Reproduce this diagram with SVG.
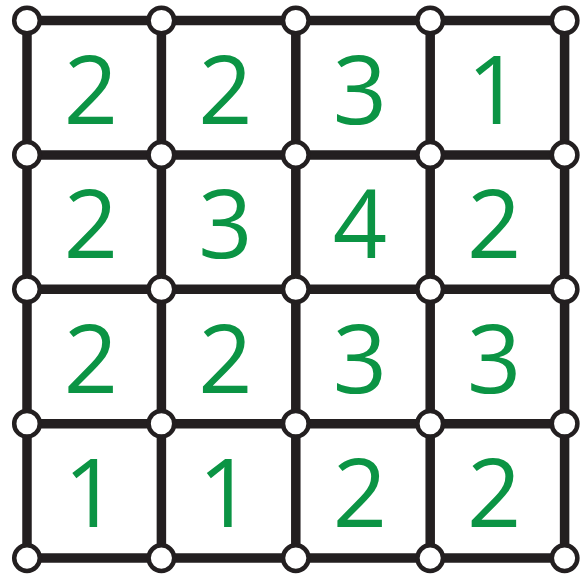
<svg xmlns="http://www.w3.org/2000/svg" width="588" height="579" viewBox="0 0 588 579">
<style>
.e{stroke:#231f20;stroke-width:9.5;stroke-linecap:butt}
.n{fill:#fff;stroke:#231f20;stroke-width:4.5}
.t{fill:#0b9444;font-family:"Open Sans","Liberation Sans",sans-serif;font-size:95px;text-anchor:middle}
</style>
<rect width="588" height="579" fill="#fff"/>
<g id="connectors">
<line class="e" x1="27" y1="20.5" x2="564.6" y2="20.5"/>
<line class="e" x1="27" y1="154.9" x2="564.6" y2="154.9"/>
<line class="e" x1="27" y1="289.3" x2="564.6" y2="289.3"/>
<line class="e" x1="27" y1="423.7" x2="564.6" y2="423.7"/>
<line class="e" x1="27" y1="558.1" x2="564.6" y2="558.1"/>
<line class="e" x1="27" y1="20.5" x2="27" y2="558.1"/>
<line class="e" x1="161.4" y1="20.5" x2="161.4" y2="558.1"/>
<line class="e" x1="295.8" y1="20.5" x2="295.8" y2="558.1"/>
<line class="e" x1="430.2" y1="20.5" x2="430.2" y2="558.1"/>
<line class="e" x1="564.6" y1="20.5" x2="564.6" y2="558.1"/>
</g>
<g id="labels">
<g id="cell-1-1"><text class="t" x="91" y="124">2</text></g>
<g id="cell-1-2"><text class="t" x="225.4" y="124">2</text></g>
<g id="cell-1-3"><text class="t" x="359.8" y="124">3</text></g>
<g id="cell-1-4"><text class="t" x="494.2" y="124">1</text></g>
<g id="cell-2-1"><text class="t" x="91" y="258.4">2</text></g>
<g id="cell-2-2"><text class="t" x="225.4" y="258.4">3</text></g>
<g id="cell-2-3"><text class="t" x="359.8" y="258.4">4</text></g>
<g id="cell-2-4"><text class="t" x="494.2" y="258.4">2</text></g>
<g id="cell-3-1"><text class="t" x="91" y="392.8">2</text></g>
<g id="cell-3-2"><text class="t" x="225.4" y="392.8">2</text></g>
<g id="cell-3-3"><text class="t" x="359.8" y="392.8">3</text></g>
<g id="cell-3-4"><text class="t" x="494.2" y="392.8">3</text></g>
<g id="cell-4-1"><text class="t" x="91" y="527.2">1</text></g>
<g id="cell-4-2"><text class="t" x="225.4" y="527.2">1</text></g>
<g id="cell-4-3"><text class="t" x="359.8" y="527.2">2</text></g>
<g id="cell-4-4"><text class="t" x="494.2" y="527.2">2</text></g>
</g>
<g id="nodes">
<g id="n-0-0"><circle class="n" cx="27" cy="20.5" r="12.8"/></g>
<g id="n-0-1"><circle class="n" cx="161.4" cy="20.5" r="12.8"/></g>
<g id="n-0-2"><circle class="n" cx="295.8" cy="20.5" r="12.8"/></g>
<g id="n-0-3"><circle class="n" cx="430.2" cy="20.5" r="12.8"/></g>
<g id="n-0-4"><circle class="n" cx="564.6" cy="20.5" r="12.8"/></g>
<g id="n-1-0"><circle class="n" cx="27" cy="154.9" r="12.8"/></g>
<g id="n-1-1"><circle class="n" cx="161.4" cy="154.9" r="12.8"/></g>
<g id="n-1-2"><circle class="n" cx="295.8" cy="154.9" r="12.8"/></g>
<g id="n-1-3"><circle class="n" cx="430.2" cy="154.9" r="12.8"/></g>
<g id="n-1-4"><circle class="n" cx="564.6" cy="154.9" r="12.8"/></g>
<g id="n-2-0"><circle class="n" cx="27" cy="289.3" r="12.8"/></g>
<g id="n-2-1"><circle class="n" cx="161.4" cy="289.3" r="12.8"/></g>
<g id="n-2-2"><circle class="n" cx="295.8" cy="289.3" r="12.8"/></g>
<g id="n-2-3"><circle class="n" cx="430.2" cy="289.3" r="12.8"/></g>
<g id="n-2-4"><circle class="n" cx="564.6" cy="289.3" r="12.8"/></g>
<g id="n-3-0"><circle class="n" cx="27" cy="423.7" r="12.8"/></g>
<g id="n-3-1"><circle class="n" cx="161.4" cy="423.7" r="12.8"/></g>
<g id="n-3-2"><circle class="n" cx="295.8" cy="423.7" r="12.8"/></g>
<g id="n-3-3"><circle class="n" cx="430.2" cy="423.7" r="12.8"/></g>
<g id="n-3-4"><circle class="n" cx="564.6" cy="423.7" r="12.8"/></g>
<g id="n-4-0"><circle class="n" cx="27" cy="558.1" r="12.8"/></g>
<g id="n-4-1"><circle class="n" cx="161.4" cy="558.1" r="12.8"/></g>
<g id="n-4-2"><circle class="n" cx="295.8" cy="558.1" r="12.8"/></g>
<g id="n-4-3"><circle class="n" cx="430.2" cy="558.1" r="12.8"/></g>
<g id="n-4-4"><circle class="n" cx="564.6" cy="558.1" r="12.8"/></g>
</g>
</svg>
